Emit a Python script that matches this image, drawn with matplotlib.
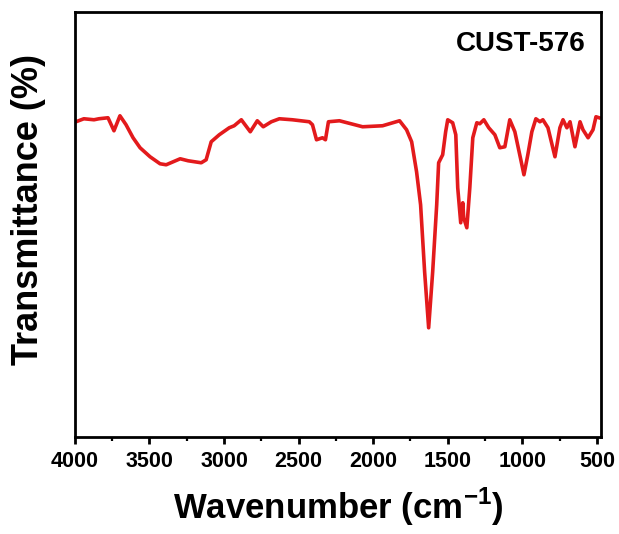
import matplotlib
matplotlib.use("Agg")
import matplotlib.pyplot as plt
from matplotlib.ticker import MultipleLocator

plt.rcParams['font.family'] = ['Liberation Sans', 'DejaVu Sans']
plt.rcParams['font.weight'] = 'bold'
plt.rcParams['mathtext.fontset'] = 'custom'
plt.rcParams['mathtext.rm'] = 'Liberation Sans:bold'
plt.rcParams['mathtext.bf'] = 'Liberation Sans:bold'

# FTIR spectrum (wavenumber in cm-1, transmittance in a.u.)
wavenumber = [4000, 3993, 3940, 3872, 3839, 3778, 3738, 3698, 3657, 3610, 3563,
              3496, 3429, 3388, 3341, 3294, 3241, 3153, 3120, 3086, 3032, 2965,
              2932, 2884, 2824, 2777, 2737, 2683, 2629, 2542, 2428, 2407, 2380,
              2340, 2320, 2300, 2226, 2071, 1937, 1823, 1776, 1742, 1709, 1682,
              1655, 1628, 1601, 1574, 1561, 1534, 1514, 1500, 1467, 1446, 1433,
              1413, 1399, 1393, 1372, 1352, 1332, 1305, 1285, 1258, 1225, 1184,
              1151, 1117, 1084, 1050, 1010, 989, 963, 936, 909, 882, 862, 828,
              781, 748, 727, 701, 680, 647, 613, 593, 559, 526, 506, 485]
transmittance = [315, 315, 318, 317, 318, 319, 306, 321, 312, 299, 289,
                 280, 273, 272, 275, 278, 276, 274, 277, 295, 302, 309,
                 311, 317, 305, 316, 310, 315, 318, 317, 315, 312, 297,
                 299, 297, 315, 316, 310, 311, 316, 307, 295, 265, 232,
                 165, 109, 165, 232, 274, 282, 305, 317, 314, 302, 249,
                 214, 234, 219, 209, 249, 299, 314, 313, 317, 309, 302,
                 289, 290, 317, 305, 277, 262, 282, 305, 318, 315, 317, 309,
                 280, 309, 317, 309, 315, 290, 315, 307, 299, 307, 320, 319]

xticks = [4000, 3500, 3000, 2500, 2000, 1500, 1000, 500]
sample_name = "CUST-576"

fig = plt.figure(figsize=(6.19, 5.34), dpi=100)
ax = fig.add_axes([0.121, 0.182, 0.850, 0.796])

ax.plot(wavenumber, transmittance, color='#e31a1c', lw=2.6,
        solid_joinstyle='round')

ax.set_xlim(4000, 472)
ax.set_ylim(0, 425)
ax.set_xticks(xticks)
ax.set_xticklabels([str(t) for t in xticks])
ax.xaxis.set_minor_locator(MultipleLocator(250))
ax.set_yticks([])

for s in ax.spines.values():
    s.set_linewidth(2.0)
ax.tick_params(axis='x', which='major', length=5, width=2.0, direction='out',
               labelsize=15.5, pad=5)
ax.tick_params(axis='x', which='minor', length=3, width=1.6, direction='out')
for lab in ax.get_xticklabels():
    lab.set_fontweight('bold')

ax.set_xlabel(r'Wavenumber (cm$^{\mathbf{-1}}$)', fontsize=25, fontweight='bold', labelpad=10)
ax.set_ylabel('Transmittance (%)', fontsize=26, fontweight='bold')
ax.yaxis.set_label_coords(-0.054, 0.535)
ax.text(0.97, 0.925, sample_name, transform=ax.transAxes, ha='right', va='center',
        fontsize=20, fontweight='bold')

fig.savefig("out.png", dpi=100)
